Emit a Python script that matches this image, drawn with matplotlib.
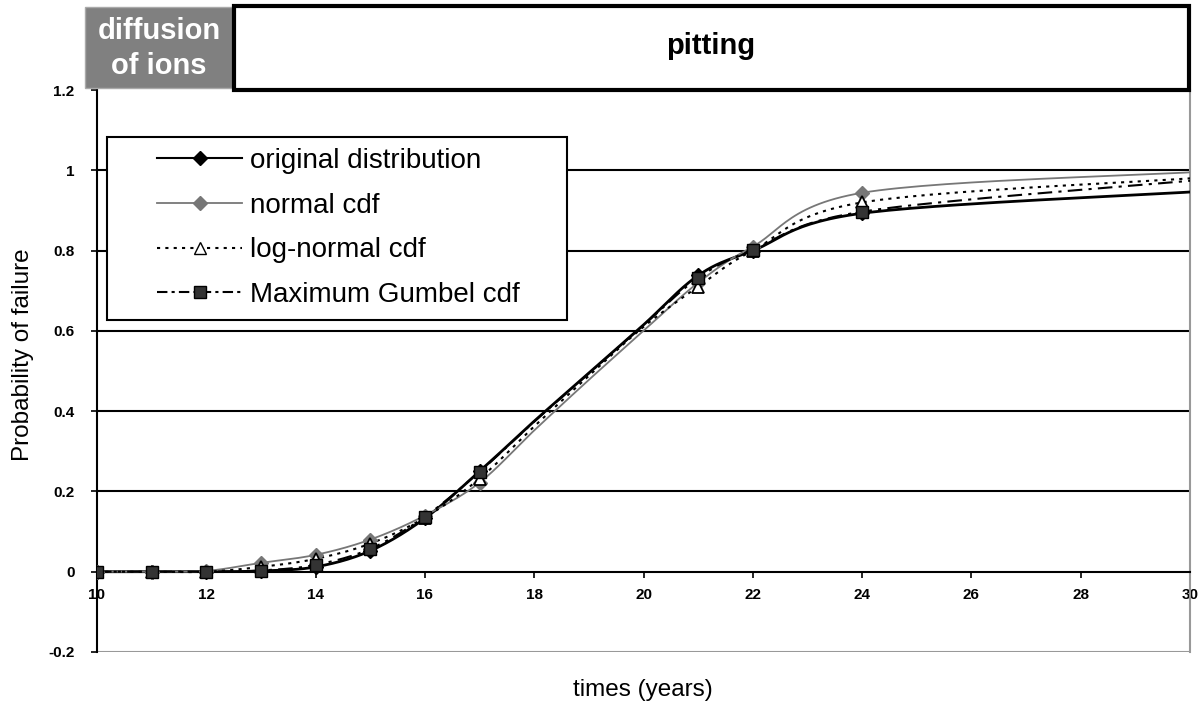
import numpy as np
import matplotlib
matplotlib.use("Agg")
import matplotlib.pyplot as plt
from matplotlib.lines import Line2D
from matplotlib.patches import Rectangle

plt.rcParams['font.family'] = ['Liberation Sans', 'DejaVu Sans']

# ---- data ----
times = [10, 11, 12, 13, 14, 15, 16, 17, 18, 19, 20, 21, 22, 24, 30]
original = [0.0, 0.0, 0.0, 0.002, 0.012, 0.052, 0.133, 0.25, 0.375, 0.495, 0.615, 0.738, 0.80, 0.893, 0.946]
normal = [0.0, 0.0, 0.002, 0.022, 0.042, 0.08, 0.14, 0.222, 0.352, 0.478, 0.60, 0.72, 0.81, 0.944, 0.995]
lognormal = [0.0, 0.0, 0.0, 0.012, 0.032, 0.07, 0.135, 0.232, 0.362, 0.488, 0.61, 0.71, 0.80, 0.92, 0.98]
gumbel = [0.0, 0.0, 0.0, 0.003, 0.017, 0.057, 0.137, 0.249, 0.374, 0.494, 0.614, 0.732, 0.802, 0.897, 0.974]
marker_times = [10, 11, 12, 13, 14, 15, 16, 17, 21, 22, 24]
xticks = [10, 12, 14, 16, 18, 20, 22, 24, 26, 28, 30]
yticks = [-0.2, 0, 0.2, 0.4, 0.6, 0.8, 1.0, 1.2]
ytick_labels = ['-0.2', '0', '0.2', '0.4', '0.6', '0.8', '1', '1.2']


def smooth(xs, ys, n=30):
    """Excel-like smoothed line (Bezier through points)."""
    P = np.column_stack([xs, ys]).astype(float)
    ext = np.vstack([P[0], P, P[-1]])
    out = []
    t = np.linspace(0, 1, n)[:, None]
    for i in range(len(P) - 1):
        p0, p3 = P[i], P[i + 1]
        p1 = p0 + (ext[i + 2] - ext[i]) / 6.0
        p2 = p3 - (ext[i + 3] - ext[i + 1]) / 6.0
        seg = ((1 - t) ** 3) * p0 + 3 * ((1 - t) ** 2) * t * p1 + 3 * (1 - t) * t ** 2 * p2 + t ** 3 * p3
        out.append(seg if i == 0 else seg[1:])
    seg = np.vstack(out)
    return seg[:, 0], seg[:, 1]


fig = plt.figure(figsize=(12, 7.09), dpi=100)
ax = fig.add_axes([0.0808, 0.0804, 0.9109, 0.7926])

series = [
    (original, dict(color='black', lw=2.0, ls='-'),
     dict(marker='D', mfc='black', mec='black', ms=7), 'original distribution'),
    (normal, dict(color='#777777', lw=1.3, ls='-'),
     dict(marker='D', mfc='#777777', mec='#777777', ms=7), 'normal cdf'),
    (lognormal, dict(color='black', lw=1.5, ls=(0, (1.5, 2.5))),
     dict(marker='^', mfc='white', mec='black', ms=8, mew=1.3), 'log-normal cdf'),
    (gumbel, dict(color='black', lw=1.5, ls=(0, (7, 3, 1.5, 3))),
     dict(marker='s', mfc='#333333', mec='black', ms=9), 'Maximum Gumbel cdf'),
]

for ys, lstyle, mstyle, lab in series:
    sx, sy = smooth(times, ys)
    ax.plot(sx, sy, zorder=3, **lstyle)
    mx = [t for t in times if t in marker_times]
    my = [v for t, v in zip(times, ys) if t in marker_times]
    ax.plot(mx, my, ls='none', zorder=4, **mstyle)

# grid lines
for g in [0.2, 0.4, 0.6, 0.8, 1.0]:
    ax.axhline(g, color='black', lw=1.5, zorder=1)
ax.axhline(-0.2, color='#999999', lw=1.5, zorder=1)

ax.set_xlim(10, 30)
ax.set_ylim(-0.2, 1.2)

ax.spines['top'].set_visible(False)
ax.spines['right'].set_color('#999999')
ax.spines['right'].set_linewidth(1.5)
ax.spines['left'].set_linewidth(1.5)
ax.spines['bottom'].set_position(('data', 0))
ax.spines['bottom'].set_linewidth(1.5)

ax.set_xticks(xticks)
ax.set_xticklabels([str(v) for v in xticks], fontsize=11, fontweight='bold')
ax.set_yticks(yticks)
ax.set_yticklabels(ytick_labels, fontsize=11, fontweight='bold')
ax.tick_params(axis='x', direction='out', length=4, width=1.2, pad=8)
ax.tick_params(axis='y', direction='out', length=4, width=1.2, pad=12)

fig.text(0.019, 0.50, 'Probability of failure', rotation=90, ha='center', va='center', fontsize=17.5)
fig.text(0.536, 0.027, 'times (years)', ha='center', va='center', fontsize=17.5)

handles = [
    Line2D([], [], color='black', lw=1.5, marker='D', mfc='black', mec='black', ms=7),
    Line2D([], [], color='#777777', lw=1.3, marker='D', mfc='#777777', mec='#777777', ms=7),
    Line2D([], [], color='black', lw=1.5, ls=(0, (1.5, 2.5)), marker='^', mfc='white', mec='black', ms=8),
    Line2D([], [], color='black', lw=1.5, ls=(0, (5, 2, 1.5, 2)), marker='s', mfc='#333333', mec='black', ms=8),
]
# legend frame drawn separately
fig.patches.append(Rectangle((107 / 1200, 1 - 320 / 709), 460 / 1200, 183 / 709,
                             transform=fig.transFigure, facecolor='white',
                             edgecolor='black', lw=1.5, zorder=4.5))
leg = fig.legend(handles, [s[3] for s in series], loc='upper left',
                 bbox_to_anchor=(157 / 1200, 1 - 148 / 709), bbox_transform=fig.transFigure,
                 fontsize=20, handlelength=3.06, frameon=False,
                 borderpad=0, labelspacing=0.67, handletextpad=0.3, borderaxespad=0)
leg.set_zorder(6)

# header boxes
fig.patches.append(Rectangle((0.0708, 0.8759), 0.1233, 0.1142, transform=fig.transFigure,
                             facecolor='#808080', edgecolor='#aaaaaa', lw=1.0, zorder=5))
fig.text(0.1325, 0.932, 'diffusion\nof ions', ha='center', va='center', color='white',
         fontsize=21, fontweight='bold', linespacing=1.3, zorder=7)
fig.patches.append(Rectangle((0.1950, 0.8730), 0.7960, 0.1190, transform=fig.transFigure,
                             facecolor='white', edgecolor='black', lw=3.0, zorder=5))
fig.text(0.592, 0.935, 'pitting', ha='center', va='center', color='black',
         fontsize=21, fontweight='bold', zorder=7)

fig.savefig('out.png', dpi=100)
